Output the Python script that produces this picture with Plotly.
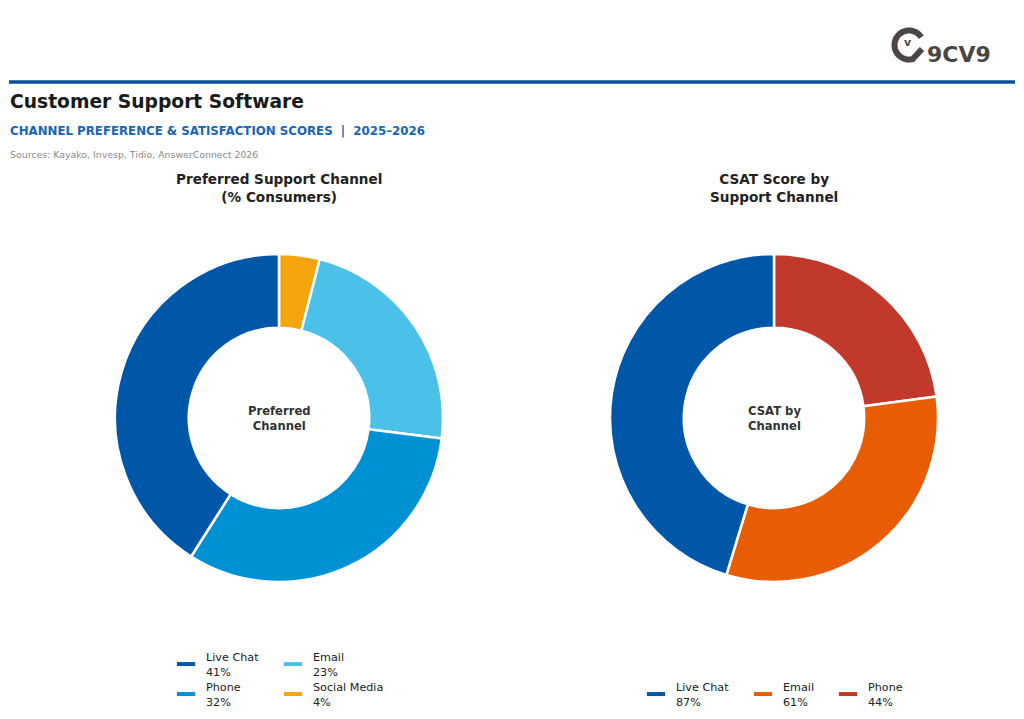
import math
import plotly.graph_objects as go

W, H = 1024, 719

# ---- data ----
pref_labels = ["Live Chat", "Phone", "Email", "Social Media"]
pref_values = [41, 32, 23, 4]
pref_colors = ["#0057A8", "#0091D5", "#4BC1EA", "#F5A40C"]

csat_labels = ["Live Chat", "Email", "Phone"]
csat_values = [87, 61, 44]
csat_colors = ["#0057A8", "#E85D04", "#C0392B"]

FONT = "DejaVu Sans"


def px_x(x):
    return x / W


def px_y(y):
    return 1 - y / H


fig = go.Figure()

# pies: first category runs counter-clockwise from 12 o'clock
# (drawn clockwise with reversed order)
fig.add_trace(go.Pie(
    labels=pref_labels[::-1], values=pref_values[::-1], hole=0.55, sort=False,
    direction="clockwise", rotation=0,
    marker=dict(colors=pref_colors[::-1], line=dict(color="white", width=2.5)),
    textinfo="none", hoverinfo="label+percent", showlegend=False,
    domain=dict(x=[px_x(115), px_x(443)], y=[px_y(582), px_y(254)]),
))
fig.add_trace(go.Pie(
    labels=csat_labels[::-1], values=csat_values[::-1], hole=0.55, sort=False,
    direction="clockwise", rotation=0,
    marker=dict(colors=csat_colors[::-1], line=dict(color="white", width=2.5)),
    textinfo="none", hoverinfo="label+value", showlegend=False,
    domain=dict(x=[px_x(610), px_x(938)], y=[px_y(582), px_y(254)]),
))


def legend_item(label, value, color, legend):
    fig.add_trace(go.Scatter(
        x=[None], y=[None], mode="markers",
        marker=dict(symbol="line-ew-open", size=13, color=color,
                    line=dict(color=color, width=4)),
        name=f"{label}<br>{value}%", legend=legend,
    ))


# left legend: rows (Live Chat, Email) / (Phone, Social Media)
legend_item(pref_labels[0], pref_values[0], pref_colors[0], "legend")
legend_item(pref_labels[2], pref_values[2], pref_colors[2], "legend")
legend_item(pref_labels[1], pref_values[1], pref_colors[1], "legend3")
legend_item(pref_labels[3], pref_values[3], pref_colors[3], "legend4")
# right legend: one row
legend_item(csat_labels[0], csat_values[0], csat_colors[0], "legend2")
legend_item(csat_labels[1], csat_values[1], csat_colors[1], "legend2")
legend_item(csat_labels[2], csat_values[2], csat_colors[2], "legend5")

ann = []


def text(t, x, y, size, color, xanchor="center"):
    ann.append(dict(text=t, x=px_x(x), y=px_y(y), xref="paper", yref="paper",
                    xanchor=xanchor, yanchor="middle", showarrow=False,
                    font=dict(size=size, color=color, family=FONT)))


text("<b>Customer Support Software</b>", 8, 102, 18.7, "#1a1a1a", "left")
text("<b>CHANNEL PREFERENCE &amp; SATISFACTION SCORES  |  2025–2026</b>", 8, 131, 11.8, "#1565B8", "left")
text("Sources: Kayako, Invesp, Tidio, AnswerConnect 2026", 8, 155, 9.4, "#8a8a8a", "left")
text("<b>Preferred Support Channel<br>(% Consumers)</b>", 279, 188, 13.6, "#222222")
text("<b>CSAT Score by<br>Support Channel</b>", 774, 188, 13.6, "#222222")
text("<b>Preferred<br>Channel</b>", 279, 418, 11.6, "#333333")
text("<b>CSAT by<br>Channel</b>", 774, 418, 11.6, "#333333")
# logo
LOGO = "#4b4545"
text("<b>9CV9</b>", 925, 55, 22, LOGO, "left")
text("<b>v</b>", 908, 43, 11, LOGO)

# logo ring as polyline path
cx, cy, r = 909, 45, 14.5
pts = []
a0, a1 = -32, -285  # screen-angle degrees (0 = right, negative = up)
n = 48
for k in range(n + 1):
    a = math.radians(a0 + (a1 - a0) * k / n)
    pts.append((cx + r * math.cos(a), cy + r * math.sin(a)))
pts.append((922, 49))
path = "M " + " L ".join(f"{px_x(x):.5f},{px_y(y):.5f}" for x, y in pts)

shapes = [
    dict(type="line", xref="paper", yref="paper", x0=px_x(9), x1=px_x(1015),
         y0=px_y(82), y1=px_y(82), line=dict(color="#0A4F9E", width=3.5)),
    dict(type="path", xref="paper", yref="paper", path=path,
         line=dict(color=LOGO, width=6)),
]

leg_common = dict(orientation="h", xanchor="left", yanchor="top",
                  font=dict(size=11.2, color="#222222", family=FONT),
                  bgcolor="rgba(0,0,0,0)", itemclick=False, itemdoubleclick=False)

fig.update_layout(
    width=W, height=H,
    margin=dict(l=0, r=0, t=0, b=0, autoexpand=False),
    paper_bgcolor="white", plot_bgcolor="white",
    font=dict(family=FONT, color="#222222"),
    xaxis=dict(visible=False), yaxis=dict(visible=False),
    annotations=ann, shapes=shapes,
    legend=dict(x=px_x(166), y=px_y(643), entrywidth=62, entrywidthmode="pixels", **leg_common),
    legend3=dict(x=px_x(166), y=px_y(673), **leg_common),
    legend4=dict(x=px_x(273), y=px_y(673), **leg_common),
    legend2=dict(x=px_x(636), y=px_y(673), entrywidth=62, entrywidthmode="pixels", **leg_common),
    legend5=dict(x=px_x(828), y=px_y(673), **leg_common),
    hovermode=False,
)

fig.write_html("out.html")
